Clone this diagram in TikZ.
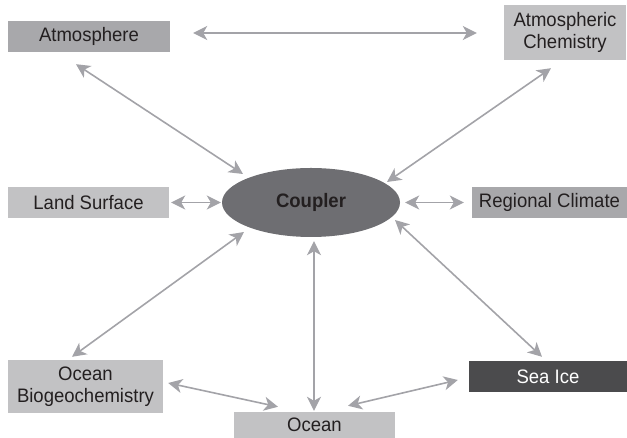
\documentclass[tikz,border=0pt]{standalone}
\usepackage{fontspec}
\setmainfont[FakeStretch=0.95]{Liberation Sans}
\usetikzlibrary{arrows.meta,calc,shapes.geometric}
\definecolor{txt}{HTML}{231F20}
\definecolor{arrcol}{HTML}{A3A3A8}
\definecolor{midgray}{HTML}{A8A8AB}
\definecolor{lightgray}{HTML}{C2C2C4}
\definecolor{darkbox}{HTML}{4B4B4D}
\definecolor{cplgray}{HTML}{6E6E72}
\tikzset{
  box/.style={rectangle, inner sep=0pt, align=center, text=txt,
    font=\fontsize{19.5}{22}\selectfont},
  arr/.style={draw=arrcol, line width=1.6pt,
    {Stealth[length=14pt,width=14pt,inset=4pt]}-{Stealth[length=14pt,width=14pt,inset=4pt]}}
}
\begin{document}
\begin{tikzpicture}[x=1pt,y=1pt]
\useasboundingbox (0,0) rectangle (627,438);
\node[box, fill=midgray, minimum width=162pt, minimum height=31pt] (atm) at (89,401.5) {Atmosphere};
\node[box, fill=lightgray, minimum width=122pt, minimum height=55pt] (chem) at (565,405.5) {Atmospheric\\Chemistry};
\node[box, fill=lightgray, minimum width=161pt, minimum height=31pt] (land) at (88.5,235.5) {Land Surface};
\node[box, fill=midgray, minimum width=155pt, minimum height=31pt] (reg) at (549.5,235.5) {Regional Climate};
\node[ellipse, fill=cplgray, minimum width=178pt, minimum height=69pt, inner sep=0pt, text=txt,
  font=\fontsize{19.5}{22}\selectfont\bfseries] (cpl) at (311,235.5) {Coupler};
\node[box, fill=lightgray, minimum width=155pt, minimum height=53pt] (bio) at (85.5,51.5) {Ocean\\Biogeochemistry};
\node[box, fill=lightgray, minimum width=161pt, minimum height=26pt] (ocean) at (314.5,13) {Ocean};
\node[box, fill=darkbox, text=white, minimum width=158pt, minimum height=31pt] (ice) at (548,61.5) {Sea Ice};

\draw[arr] ($(atm.east)+(23,3.5)$) -- ($(chem.west)+(-27,-0.5)$);
\draw[arr] ($(atm.south)+(-13,-12)$) -- ($(cpl.center)+(-68,28.5)$);
\draw[arr] ($(chem.south)+(-14,-8)$) -- ($(cpl.center)+(76,20.5)$);
\draw[arr] ($(land.east)+(2,0)$) -- ($(cpl.west)+(-1,0)$);
\draw[arr] ($(cpl.east)+(5,0)$) -- ($(reg.west)+(-8,0)$);
\draw[arr] ($(cpl.center)+(-67,-29.5)$) -- ($(bio.north)+(-13.5,3)$);
\draw[arr] ($(cpl.south)+(3,-4)$) -- ($(ocean.north)+(-0.5,1)$);
\draw[arr] ($(cpl.center)+(84,-17.5)$) -- ($(ice.north)+(-6,4)$);
\draw[arr] ($(bio.east)+(5,3.5)$) -- ($(ocean.north)+(-36.5,5)$);
\draw[arr] ($(ocean.north)+(33.5,6)$) -- ($(ice.west)+(-11,-3.5)$);
\end{tikzpicture}
\end{document}
